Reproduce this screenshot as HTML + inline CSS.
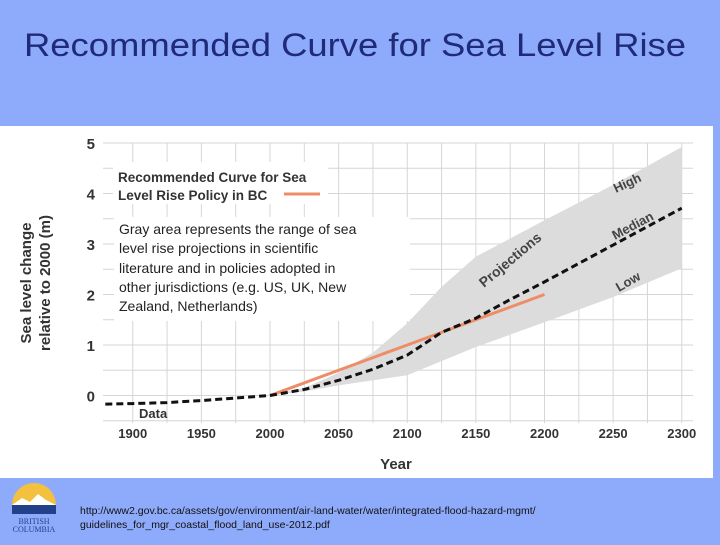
<!DOCTYPE html>
<html><head><meta charset="utf-8"><style>
body{margin:0;width:720px;height:540px;overflow:hidden;background:#8eaafa;font-family:"Liberation Sans",sans-serif}
</style></head><body>
<svg id="s" width="720" height="540" xmlns="http://www.w3.org/2000/svg">
<rect x="0" y="0" width="720" height="540" fill="#8eaafa"/>
<text x="24" y="56" font-size="32" fill="#1f2a78" textLength="662" lengthAdjust="spacingAndGlyphs">Recommended Curve for Sea Level Rise</text>
<rect x="0" y="126" width="713" height="352" fill="#ffffff"/>
<g id="grid"></g>
<g id="marks"></g>
<g id="axes"></g>
<rect x="113" y="162" width="215" height="42" fill="#fff"/>
<text x="118" y="182" font-size="13.5" font-weight="bold" fill="#333">Recommended Curve for Sea</text>
<text x="118" y="200" font-size="13.5" font-weight="bold" fill="#333">Level Rise Policy in BC</text>
<line x1="284" y1="194" x2="320" y2="194" stroke="#ef8c68" stroke-width="3"/>
<rect x="114" y="217" width="296" height="104" fill="#fff"/>
<g font-size="14" fill="#222">
<text x="119" y="234">Gray area represents the range of sea</text>
<text x="119" y="253">level rise projections in scientific</text>
<text x="119" y="273">literature and in policies adopted in</text>
<text x="119" y="292">other jurisdictions (e.g. US, UK, New</text>
<text x="119" y="311">Zealand, Netherlands)</text>
</g>
<text transform="translate(484,288) rotate(-40)" font-size="14" font-weight="bold" fill="#444">Projections</text>
<text transform="translate(616,193) rotate(-25)" font-size="13" font-weight="bold" fill="#444">High</text>
<text transform="translate(615,240) rotate(-28)" font-size="13" font-weight="bold" fill="#444">Median</text>
<text transform="translate(619,292) rotate(-30)" font-size="13" font-weight="bold" fill="#444">Low</text>
<text x="139" y="418" font-size="13" font-weight="bold" fill="#333">Data</text>
<text transform="translate(31,283) rotate(-90)" text-anchor="middle" font-size="15" font-weight="bold" fill="#333">Sea level change</text>
<text transform="translate(50,283) rotate(-90)" text-anchor="middle" font-size="15" font-weight="bold" fill="#333">relative to 2000 (m)</text>
<text x="396" y="469" text-anchor="middle" font-size="15" font-weight="bold" fill="#333">Year</text>
<g>
<path d="M12 505 A22 22 0 0 1 56 505 Z" fill="#f4c040"/>
<path d="M12 505 L22 498 L30 502 L38 494 L46 500 L56 505 Z" fill="#fff"/>
<rect x="12" y="505" width="44" height="9" fill="#23418a"/>
<text x="34" y="524" text-anchor="middle" font-size="8" font-family="Liberation Serif,serif" fill="#23418a">BRITISH</text>
<text x="34" y="532" text-anchor="middle" font-size="8" font-family="Liberation Serif,serif" fill="#23418a">COLUMBIA</text>
</g>
<text x="80" y="514" font-size="10.5" fill="#111">http://www2.gov.bc.ca/assets/gov/environment/air-land-water/water/integrated-flood-hazard-mgmt/</text>
<text x="80" y="528" font-size="10.5" fill="#111">guidelines_for_mgr_coastal_flood_land_use-2012.pdf</text>
</svg>
<script>
const histYears=[1880,1900,1925,1950,1975,2000];
const histVals=[-0.17,-0.16,-0.14,-0.1,-0.05,0];
const medYears=[2000,2025,2050,2075,2100,2125,2150,2175,2200,2250,2300];
const medVals=[0,0.12,0.3,0.52,0.8,1.25,1.53,1.9,2.25,2.98,3.71];
const bandYears=[2000,2025,2050,2075,2100,2125,2150,2200,2250,2300];
const bandLow=[0,0.08,0.2,0.3,0.4,0.68,0.96,1.45,1.95,2.52];
const bandHigh=[0,0.15,0.45,0.85,1.43,2.15,2.75,3.47,4.17,4.92];
const bcYears=[2000,2100,2200];
const bcVals=[0,1.0,2.0];
const yTicks=[0,1,2,3,4,5];
const xTicks=[1900,1950,2000,2050,2100,2150,2200,2250,2300];
const X=y=>270+(y-2000)*1.3725, Y=v=>395.5-v*50.5;
const NS="http://www.w3.org/2000/svg";
function mk(p,t,a){const e=document.createElementNS(NS,t);for(const k in a)e.setAttribute(k,a[k]);p.appendChild(e);return e;}
const grid=document.getElementById('grid'),marks=document.getElementById('marks'),axes=document.getElementById('axes');
for(let yr=1875;yr<=2300;yr+=25){if(yr<1880)continue;const l=mk(grid,'line',{x1:X(yr),x2:X(yr),y1:143,y2:423,stroke:'#d6d6d6','stroke-width':1});

}
for(let v=-0.5;v<=5;v+=0.5){const l=mk(grid,'line',{x1:103,x2:693,y1:Y(v),y2:Y(v),stroke:'#d6d6d6','stroke-width':1});

}
let d='M'+bandYears.map((y,i)=>X(y)+','+Y(bandHigh[i])).join('L');
for(let i=bandYears.length-1;i>=0;i--)d+='L'+X(bandYears[i])+','+Y(bandLow[i]);
const band=mk(marks,'path',{d:d+'Z',fill:'#dcdcdc'});


const bc=mk(marks,'polyline',{points:bcYears.map((y,i)=>X(y)+','+Y(bcVals[i])).join(' '),fill:'none',stroke:'#ef8c68','stroke-width':3});


const h=mk(marks,'polyline',{points:histYears.map((y,i)=>X(y)+','+Y(histVals[i])).join(' '),fill:'none',stroke:'#111','stroke-width':3,'stroke-dasharray':'7,4'});


const m=mk(marks,'polyline',{points:medYears.map((y,i)=>X(y)+','+Y(medVals[i])).join(' '),fill:'none',stroke:'#111','stroke-width':3,'stroke-dasharray':'7,4'});


yTicks.forEach(v=>{const t=mk(axes,'text',{x:95,y:Y(v)+6,'text-anchor':'end','font-size':15,fill:'#333','font-weight':'bold'});t.textContent=v;

});
xTicks.forEach(v=>{const t=mk(axes,'text',{x:X(v),y:438,'text-anchor':'middle','font-size':13,fill:'#333','font-weight':'bold'});t.textContent=v;

});
</script>
</body></html>
